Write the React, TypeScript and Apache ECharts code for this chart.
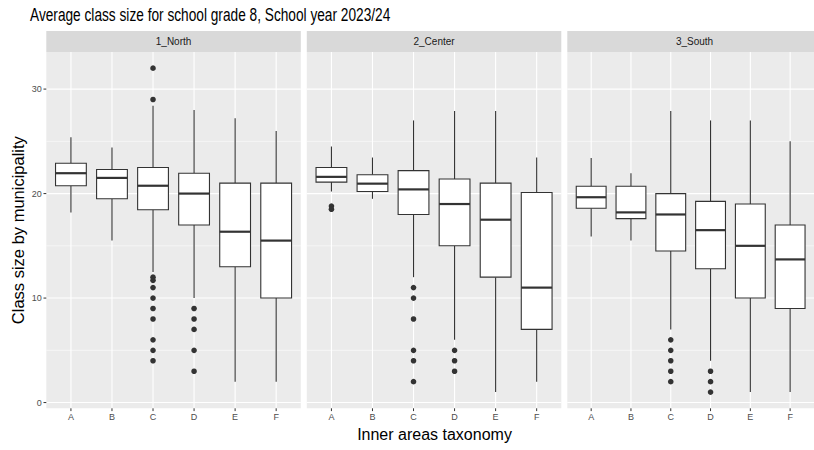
import React, { useEffect, useRef } from "react";
import * as echarts from "echarts";

// Facets and categories
const REGIONS = ["1_North", "2_Center", "3_South"];
const CATEGORIES = ["A", "B", "C", "D", "E", "F"];
const Y_MAJOR = [0, 10, 20, 30];
const Y_MINOR = [5, 15, 25];

// Five-number summaries per category: [lower whisker, Q1, median, Q3, upper whisker]
const northBoxes = [
  [18.2, 20.75, 21.95, 22.9, 25.4],
  [15.5, 19.5, 21.5, 22.3, 24.4],
  [12.5, 18.45, 20.75, 22.5, 28.4],
  [10.0, 17.0, 20.0, 21.95, 28.0],
  [2.0, 13.0, 16.35, 21.0, 27.2],
  [2.0, 10.0, 15.5, 21.0, 26.0],
];
const centerBoxes = [
  [20.2, 21.1, 21.6, 22.5, 24.5],
  [19.5, 20.2, 20.95, 21.8, 23.45],
  [12.0, 18.0, 20.4, 22.2, 27.0],
  [6.0, 15.0, 19.0, 21.4, 27.9],
  [1.0, 12.0, 17.5, 21.0, 27.9],
  [2.0, 7.0, 11.0, 20.1, 23.45],
];
const southBoxes = [
  [15.9, 18.6, 19.65, 20.7, 23.4],
  [15.5, 17.6, 18.2, 20.7, 21.95],
  [7.0, 14.5, 18.0, 20.0, 27.9],
  [4.0, 12.8, 16.5, 19.25, 27.0],
  [1.0, 10.0, 15.0, 19.0, 27.0],
  [1.0, 9.0, 13.7, 17.0, 25.0],
];

// Outlying municipalities per category
const northOutliers = [[], [], [32, 29, 12, 11.7, 11, 10, 9, 8, 6, 5, 4], [9, 8, 7, 5, 3], [], []];
const centerOutliers = [[18.8, 18.5], [], [11, 10, 8, 5, 4, 2], [5, 4, 3], [], []];
const southOutliers = [[], [], [6, 5, 4, 3, 2], [3, 2, 1], [], []];

const BOXES = [northBoxes, centerBoxes, southBoxes];
const OUTLIERS = [northOutliers, centerOutliers, southOutliers];

// Layout
const PANEL_LEFT = [46.3, 306.8, 567.3];
const PANEL_W = 254.5;
const PANEL_TOP = 52;
const PANEL_H = 356.3;
const STRIP_H = 21;
const FONT = "'Liberation Sans', Arial, Helvetica, sans-serif";
const INK = "#333333";

export default function App() {
  const ref = useRef<HTMLDivElement>(null);

  useEffect(() => {
    document.body.style.margin = "0";
    const chart = echarts.init(ref.current!, null, { renderer: "svg" });

    const grids: any[] = [];
    const xAxes: any[] = [];
    const yAxes: any[] = [];
    const series: any[] = [];
    const graphics: any[] = [];

    REGIONS.forEach((region, p) => {
      grids.push({
        left: PANEL_LEFT[p],
        top: PANEL_TOP,
        width: PANEL_W,
        height: PANEL_H,
        show: true,
        backgroundColor: "#EBEBEB",
        borderWidth: 0,
      });
      xAxes.push({ gridIndex: p, type: "value", min: -0.6, max: 5.6, show: false });
      yAxes.push({ gridIndex: p, type: "value", min: -0.55, max: 33.55, show: false });

      // horizontal grid lines (+ y tick marks and labels on the first panel)
      const hData = [
        ...Y_MINOR.map((v) => [0, v, 0]),
        ...Y_MAJOR.map((v) => [0, v, 1]),
      ];
      series.push({
        type: "custom",
        xAxisIndex: p,
        yAxisIndex: p,
        z: 1,
        silent: true,
        clip: false,
        data: hData,
        encode: { x: 0, y: 1 },
        renderItem: (params: any, api: any) => {
          const cs = params.coordSys;
          const v = api.value(1);
          const major = api.value(2) === 1;
          const y = api.coord([0, v])[1];
          const children: any[] = [
            {
              type: "line",
              shape: { x1: cs.x, y1: y, x2: cs.x + cs.width, y2: y },
              style: { stroke: "#FFFFFF", lineWidth: major ? 1.1 : 0.55 },
            },
          ];
          if (major && p === 0) {
            children.push({
              type: "line",
              shape: { x1: cs.x - 2.8, y1: y, x2: cs.x, y2: y },
              style: { stroke: INK, lineWidth: 1 },
            });
            children.push({
              type: "text",
              x: cs.x - 4.5,
              y: y,
              style: {
                text: String(v),
                fill: "#4D4D4D",
                fontSize: 9,
                fontFamily: FONT,
                align: "right",
                verticalAlign: "middle",
              },
            });
          }
          return { type: "group", children };
        },
      });

      // vertical grid lines at each category, with tick marks and labels
      series.push({
        type: "custom",
        xAxisIndex: p,
        yAxisIndex: p,
        z: 1,
        silent: true,
        clip: false,
        data: CATEGORIES.map((_, i) => [i, 0]),
        encode: { x: 0, y: 1 },
        renderItem: (params: any, api: any) => {
          const cs = params.coordSys;
          const i = api.value(0);
          const x = api.coord([i, 0])[0];
          const bottom = cs.y + cs.height;
          return {
            type: "group",
            children: [
              {
                type: "line",
                shape: { x1: x, y1: cs.y, x2: x, y2: bottom },
                style: { stroke: "#FFFFFF", lineWidth: 1.1 },
              },
              {
                type: "line",
                shape: { x1: x, y1: bottom, x2: x, y2: bottom + 2.8 },
                style: { stroke: INK, lineWidth: 1 },
              },
              {
                type: "text",
                x: x,
                y: bottom + 4.5,
                style: {
                  text: CATEGORIES[i],
                  fill: "#4D4D4D",
                  fontSize: 9,
                  fontFamily: FONT,
                  align: "center",
                  verticalAlign: "top",
                },
              },
            ],
          };
        },
      });

      // boxes with whiskers
      series.push({
        type: "custom",
        xAxisIndex: p,
        yAxisIndex: p,
        z: 3,
        silent: true,
        data: BOXES[p].map((b, i) => [i, ...b]),
        encode: { x: 0, y: [1, 2, 3, 4, 5] },
        renderItem: (params: any, api: any) => {
          const i = api.value(0);
          const x = api.coord([i, 0])[0];
          const half = api.size([1, 0])[0] * 0.375;
          const yLo = api.coord([i, api.value(1)])[1];
          const yQ1 = api.coord([i, api.value(2)])[1];
          const yMed = api.coord([i, api.value(3)])[1];
          const yQ3 = api.coord([i, api.value(4)])[1];
          const yHi = api.coord([i, api.value(5)])[1];
          return {
            type: "group",
            children: [
              {
                type: "line",
                shape: { x1: x, y1: yHi, x2: x, y2: yQ3 },
                style: { stroke: INK, lineWidth: 1.1 },
              },
              {
                type: "line",
                shape: { x1: x, y1: yQ1, x2: x, y2: yLo },
                style: { stroke: INK, lineWidth: 1.1 },
              },
              {
                type: "rect",
                shape: { x: x - half, y: yQ3, width: half * 2, height: yQ1 - yQ3 },
                style: { fill: "#FFFFFF", stroke: INK, lineWidth: 1.1 },
              },
              {
                type: "line",
                shape: { x1: x - half, y1: yMed, x2: x + half, y2: yMed },
                style: { stroke: INK, lineWidth: 2.2 },
              },
            ],
          };
        },
      });

      // outliers
      const pts: number[][] = [];
      OUTLIERS[p].forEach((vals, i) => vals.forEach((v) => pts.push([i, v])));
      series.push({
        type: "scatter",
        xAxisIndex: p,
        yAxisIndex: p,
        z: 4,
        silent: true,
        symbol: "circle",
        symbolSize: 5.6,
        itemStyle: { color: INK, opacity: 1 },
        data: pts,
      });

      // facet strip
      graphics.push({
        type: "rect",
        shape: { x: PANEL_LEFT[p], y: PANEL_TOP - STRIP_H, width: PANEL_W, height: STRIP_H },
        style: { fill: "#D9D9D9" },
        silent: true,
      });
      graphics.push({
        type: "text",
        x: PANEL_LEFT[p] + PANEL_W / 2,
        y: PANEL_TOP - STRIP_H / 2,
        style: {
          text: region,
          fill: "#1A1A1A",
          fontSize: 10,
          fontFamily: FONT,
          align: "center",
          verticalAlign: "middle",
        },
        silent: true,
      });
    });

    // plot title and axis titles
    graphics.push({
      type: "text",
      x: 30,
      y: 14.5,
      scaleX: 0.74,
      style: {
        text: "Average class size for school grade 8, School year 2023/24",
        fill: "#000000",
        fontSize: 18.5,
        fontFamily: FONT,
        align: "left",
        verticalAlign: "middle",
      },
      silent: true,
    });
    graphics.push({
      type: "text",
      x: 434.5,
      y: 434,
      style: {
        text: "Inner areas taxonomy",
        fill: "#000000",
        fontSize: 16,
        fontFamily: FONT,
        align: "center",
        verticalAlign: "middle",
      },
      silent: true,
    });
    graphics.push({
      type: "text",
      x: 18,
      y: PANEL_TOP + PANEL_H / 2,
      rotation: Math.PI / 2,
      style: {
        text: "Class size by municipality",
        fill: "#000000",
        fontSize: 16.5,
        fontFamily: FONT,
        align: "center",
        verticalAlign: "middle",
      },
      silent: true,
    });

    chart.setOption({
      animation: false,
      backgroundColor: "#FFFFFF",
      grid: grids,
      xAxis: xAxes,
      yAxis: yAxes,
      series,
      graphic: graphics,
    });

    return () => chart.dispose();
  }, []);

  return <div ref={ref} style={{ width: 814, height: 450 }} />;
}
